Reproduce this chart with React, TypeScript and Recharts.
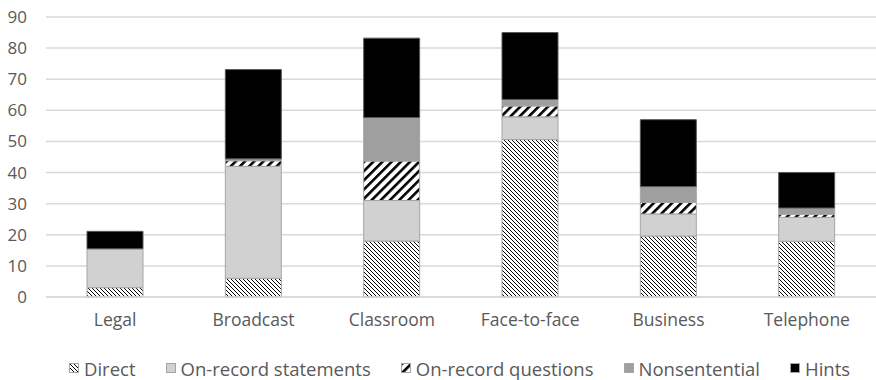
import React from 'react';
import { BarChart, Bar, XAxis, YAxis, CartesianGrid, Legend } from 'recharts';

const CATEGORIES = ['Legal', 'Broadcast', 'Classroom', 'Face-to-face', 'Business', 'Telephone'];
const DIRECT = [3, 6, 18, 50.6, 19.6, 17.9];
const STATEMENTS = [12.5, 36, 13, 7.3, 7.1, 7.7];
const QUESTIONS = [0, 1.8, 12.7, 3.5, 3.7, 1.0];
const NONSENTENTIAL = [0, 0.6, 14, 2.1, 5.1, 2.0];
const HINTS = [5.6, 28.7, 25.5, 21.5, 21.5, 11.4];
const Y_TICKS = [0, 10, 20, 30, 40, 50, 60, 70, 80, 90];

const SERIES = [
  { key: 'direct', name: 'Direct', fill: 'url(#pDirect)', stroke: '#a6a6a6' },
  { key: 'statements', name: 'On-record statements', fill: '#d0d1d0', stroke: '#a6a6a6' },
  { key: 'questions', name: 'On-record questions', fill: 'url(#pQuestions)', stroke: '#a6a6a6' },
  { key: 'nonsentential', name: 'Nonsentential', fill: '#9f9f9f', stroke: '#a6a6a6' },
  { key: 'hints', name: 'Hints', fill: '#000000', stroke: '#595959' },
];

const data = CATEGORIES.map((name, i) => ({
  name,
  direct: DIRECT[i],
  statements: STATEMENTS[i],
  questions: QUESTIONS[i],
  nonsentential: NONSENTENTIAL[i],
  hints: HINTS[i],
}));

const FONT = '"Open Sans", sans-serif';
const TEXT = '#595959';

function LegendBox() {
  return (
    <div
      style={{
        height: 38,
        display: 'flex',
        alignItems: 'center',
        paddingLeft: 69,
        paddingTop: 14,
        boxSizing: 'border-box',
        fontFamily: FONT,
        fontSize: 18.5,
        color: TEXT,
        gap: 30,
        whiteSpace: 'nowrap',
      }}
    >
      {SERIES.map((s) => (
        <div key={s.key} style={{ display: 'flex', alignItems: 'center' }}>
          <svg width={10} height={10} style={{ marginRight: 5 }}>
            <rect x={0.5} y={0.5} width={9} height={9} fill={s.fill} stroke="#a6a6a6" />
          </svg>
          <span>{s.name}</span>
        </div>
      ))}
    </div>
  );
}

export default function App() {
  return (
    <div style={{ position: 'absolute', left: 0, top: 0, width: 876, height: 380, background: '#fff' }}>
      <BarChart
        width={876}
        height={380}
        data={data}
        margin={{ top: 17, right: 0, bottom: 0, left: 0 }}
        barSize={56}
      >
        <defs>
          <pattern id="pDirect" patternUnits="userSpaceOnUse" width={4} height={4}>
            <rect width={4} height={4} fill="#fff" />
            <path d="M0,0 L4,4 M-1,3 L1,5 M3,-1 L5,1" stroke="#000" strokeWidth={1} />
          </pattern>
          <pattern
            id="pQuestions"
            patternUnits="userSpaceOnUse"
            width={6.5}
            height={6.5}
            patternTransform="rotate(45)"
          >
            <rect width={6.5} height={6.5} fill="#fff" />
            <rect width={2.6} height={6.5} fill="#000" />
          </pattern>
        </defs>
        <CartesianGrid vertical={false} stroke="#d9d9d9" strokeWidth={1.5} />
        <XAxis
          dataKey="name"
          height={45}
          tickLine={false}
          tickSize={0}
          tickMargin={17}
          axisLine={{ stroke: '#d9d9d9', strokeWidth: 1.5 }}
          tick={{ fill: TEXT, fontSize: 17.5, fontFamily: FONT }}
        />
        <YAxis
          width={46}
          domain={[0, 90]}
          ticks={Y_TICKS}
          axisLine={false}
          tickLine={false}
          tickSize={0}
          tickMargin={19}
          tick={{ fill: TEXT, fontSize: 17, fontFamily: FONT }}
        />
        <Legend verticalAlign="bottom" content={() => <LegendBox />} />
        {SERIES.map((s) => (
          <Bar
            key={s.key}
            dataKey={s.key}
            name={s.name}
            stackId="a"
            fill={s.fill}
            stroke={s.stroke}
            strokeWidth={1}
            isAnimationActive={false}
          />
        ))}
      </BarChart>
    </div>
  );
}
